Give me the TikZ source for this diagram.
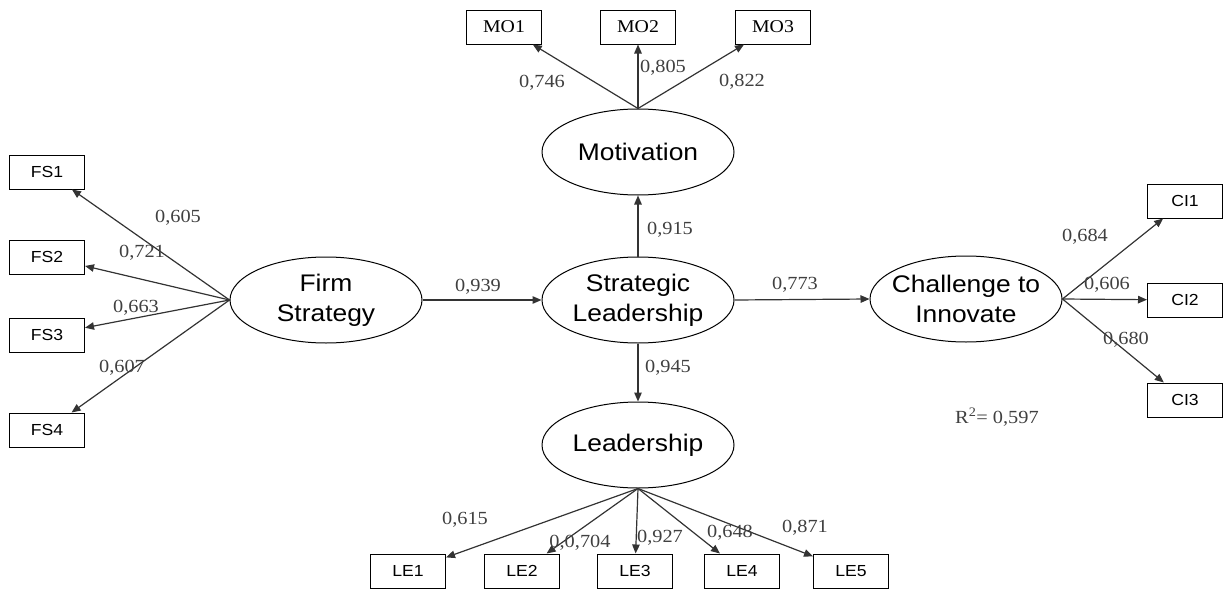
\documentclass[tikz,border=0pt]{standalone}
\usepackage{fontspec}
\setmainfont{Liberation Serif}[FakeStretch=1.1]
\setsansfont{Liberation Sans}[FakeStretch=1.1]
\usetikzlibrary{shapes.geometric,arrows.meta}

\begin{document}
\begin{tikzpicture}[
  x=1pt,y=-1pt,
  every node/.style={font=\fontsize{18.5}{20}\selectfont},
  latent/.style={ellipse,draw,line width=1pt,minimum width=192pt,minimum height=86pt,inner sep=0pt,align=center,font=\sffamily\fontsize{24}{30}\selectfont},
  indic/.style={rectangle,draw,line width=1pt,minimum width=75pt,minimum height=34pt,inner sep=1pt,font=\sffamily\fontsize{16}{18}\selectfont},
  indicser/.style={indic,font=\fontsize{18}{20}\selectfont},
  load/.style={inner sep=1pt,text=black!75},
  arr/.style={line width=1.2pt,draw=black!80,-{Triangle[length=9pt,width=7.5pt]}}
]
  \useasboundingbox (0,0) rectangle (1224,589);
  \node[latent] (fs) at (326,300) {Firm\\Strategy};
  \node[latent] (sl) at (638,300) {Strategic\\Leadership};
  \node[latent] (mo) at (638,152) {Motivation};
  \node[latent] (le) at (638,445) {Leadership};
  \node[latent,inner sep=-9pt] (ci) at (966,299) {Challenge to\\Innovate};
  \foreach \i/\y in {1/172,2/257,3/335,4/430} {
    \node[indic] (fs\i) at (47,\y) {FS\i};
    \draw[arr] (fs.west) -- (fs\i);
  }
  \foreach \i/\x in {1/504,2/638,3/773} {
    \node[indicser] (mo\i) at (\x,27) {MO\i};
    \draw[arr] (mo.north) -- (mo\i);
  }
  \foreach \i/\y in {1/201,2/300,3/400} {
    \node[indic] (ci\i) at (1185,\y) {CI\i};
    \draw[arr] (ci.east) -- (ci\i);
  }
  \foreach \i/\x in {1/408,2/522,3/635,4/742,5/851} {
    \node[indic] (le\i) at (\x,571) {LE\i};
    \draw[arr] (le.south) -- (le\i);
  }
  \draw[arr] (fs.east) -- (sl.west);
  \draw[arr] (sl.north) -- (mo.south);
  \draw[arr] (sl.south) -- (le.north);
  \draw[arr] (sl.east) -- (ci.west);
  \node[load] (wfs1) at (178,218) {0,605};
  \node[load] (wfs2) at (142,253) {0,721};
  \node[load] (wfs3) at (136,308) {0,663};
  \node[load] (wfs4) at (122,368) {0,607};
  \node[load] (wmo1) at (542,83) {0,746};
  \node[load] (wmo2) at (663,68) {0,805};
  \node[load] (wmo3) at (742,82) {0,822};
  \node[load] (wci1) at (1085,237) {0,684};
  \node[load] (wci2) at (1107,285) {0,606};
  \node[load] (wci3) at (1126,340) {0,680};
  \node[load] (wle1) at (465,520) {0,615};
  \node[load] (wle2) at (580,543) {0,0,704};
  \node[load] (wle3) at (660,538) {0,927};
  \node[load] (wle4) at (730,533) {0,648};
  \node[load] (wle5) at (805,528) {0,871};
  \node[load] (wsl1) at (478,287) {0,939};
  \node[load] (wsl2) at (670,230) {0,915};
  \node[load] (wsl3) at (668,368) {0,945};
  \node[load] (wsl4) at (795,285) {0,773};
  \node[load] (rsq) at (997,417) {R\textsuperscript{2}= 0,597};
\end{tikzpicture}
\end{document}
